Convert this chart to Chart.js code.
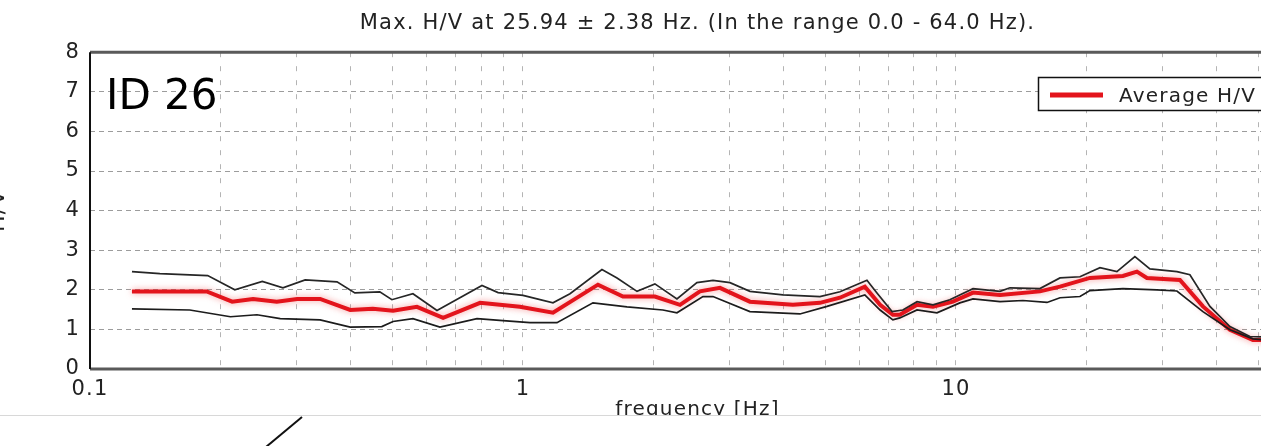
<!DOCTYPE html>
<html>
<head>
<meta charset="utf-8">
<title>H/V - ID 26</title>
<script src="https://cdn.jsdelivr.net/npm/chart.js@4.4.1/dist/chart.umd.min.js"></script>
<style>
    html, body { margin: 0; padding: 0; background: #fff; overflow: hidden; }
    #wrap { position: relative; width: 1261px; height: 446px; overflow: hidden; }
    #hv-chart { position: absolute; left: 0; top: 0; }
</style>
</head>
<body>
<div id="wrap"><canvas id="hv-chart" width="1388" height="446"></canvas></div>
<script>
// 曲線數據 (頻率 Hz / H/V 值)
const avgFreq = [0.125, 0.186, 0.213, 0.238, 0.270, 0.301, 0.340, 0.399, 0.450, 0.501,
    0.569, 0.654, 0.796, 0.984, 1.173, 1.490, 1.702, 2.017, 2.305, 2.563,
    2.851, 3.343, 4.203, 4.852, 5.396, 6.16, 6.68, 7.15, 7.42, 8.13,
    8.85, 9.84, 10.95, 12.64, 15.63, 17.39, 20.39, 24.30, 26.18, 27.61,
    32.91, 37.19, 42.93, 48.52, 50.63, 56, 64];
const avgHV = [1.96, 1.96, 1.70, 1.77, 1.70, 1.77, 1.77, 1.49, 1.52, 1.47,
    1.57, 1.29, 1.67, 1.57, 1.42, 2.13, 1.83, 1.83, 1.62, 1.96,
    2.05, 1.70, 1.62, 1.67, 1.80, 2.08, 1.62, 1.37, 1.37, 1.62,
    1.57, 1.70, 1.93, 1.87, 1.96, 2.08, 2.30, 2.35, 2.46, 2.30,
    2.25, 1.58, 0.99, 0.73, 0.73, 0.72, 0.74];

const upperFreq = [0.125, 0.145, 0.187, 0.216, 0.250, 0.279, 0.314, 0.372, 0.409, 0.467,
    0.498, 0.557, 0.633, 0.804, 0.876, 1.0, 1.173, 1.284, 1.522, 1.649,
    1.834, 2.017, 2.268, 2.522, 2.747, 3.007, 3.343, 3.985, 4.852, 5.396,
    6.23, 6.57, 7.12, 7.54, 8.13, 8.85, 9.68, 10.95, 12.64, 13.33,
    15.63, 17.39, 19.34, 21.51, 23.54, 25.90, 28.05, 32.39, 34.70, 38.60,
    42.93, 47.75, 50.63, 56, 64];
const upperHV = [2.46, 2.41, 2.36, 2.00, 2.21, 2.05, 2.25, 2.20, 1.92, 1.95,
    1.75, 1.90, 1.48, 2.11, 1.93, 1.86, 1.67, 1.90, 2.51, 2.30,
    1.96, 2.15, 1.77, 2.18, 2.24, 2.18, 1.96, 1.87, 1.83, 1.95,
    2.24, 1.92, 1.45, 1.49, 1.70, 1.62, 1.75, 2.03, 1.96, 2.05,
    2.03, 2.30, 2.33, 2.56, 2.46, 2.84, 2.53, 2.46, 2.38, 1.58,
    1.07, 0.82, 0.81, 0.80, 0.82];

const lowerFreq = [0.125, 0.170, 0.211, 0.243, 0.275, 0.340, 0.399, 0.472, 0.501, 0.557,
    0.643, 0.783, 0.899, 1.038, 1.198, 1.451, 1.739, 2.105, 2.268, 2.604,
    2.747, 3.343, 4.362, 5.037, 6.16, 6.68, 7.15, 7.42, 8.13, 9.04,
    10.21, 10.95, 12.64, 14.28, 16.23, 17.39, 19.34, 20.39, 24.30, 29.12,
    32.39, 37.19, 42.93, 48.52, 56, 64];
const lowerHV = [1.52, 1.49, 1.32, 1.37, 1.27, 1.24, 1.06, 1.07, 1.20, 1.27,
    1.06, 1.27, 1.22, 1.17, 1.17, 1.67, 1.57, 1.49, 1.42, 1.83,
    1.83, 1.45, 1.39, 1.58, 1.87, 1.49, 1.24, 1.29, 1.49, 1.42,
    1.67, 1.77, 1.70, 1.73, 1.68, 1.80, 1.83, 1.98, 2.03, 2.00,
    1.97, 1.45, 0.99, 0.76, 0.70, 0.72];

// 座標軸刻度
const xGridTicks = [0.1, 0.2, 0.3, 0.4, 0.5, 0.6, 0.7, 0.8, 0.9,
    1, 2, 3, 4, 5, 6, 7, 8, 9,
    10, 20, 30, 40, 50, 60];
const xTickLabels = [0.1, 1, 10];

const titleText = 'Max. H/V at 25.94 ± 2.38 Hz. (In the range 0.0 - 64.0 Hz).';
const stationLabel = 'ID 26';

const FONT = "'DejaVu Sans', 'Liberation Sans', sans-serif";
const INK = '#222';
const SPACING = '1.2px';   // 原圖字體較寬

function toPoints(freqs, values) {
    return freqs.map((f, i) => ({ x: f, y: values[i] }));
}

/**
 * 字距 (量測和繪製都要用到)
 */
const spacingPlugin = {
    id: 'spacing',
    beforeLayout(chart) {
        chart.ctx.letterSpacing = SPACING;
    },
    beforeDraw(chart) {
        chart.ctx.letterSpacing = SPACING;
    }
};

/**
 * 平均曲線加上淡紅色光暈
 */
const glowPlugin = {
    id: 'glow',
    beforeDatasetDraw(chart, args) {
        const ctx = chart.ctx;
        ctx.save();
        if (chart.data.datasets[args.index].glow) {
            ctx.shadowColor = 'rgba(240, 90, 90, 0.6)';
            ctx.shadowBlur = 6;
        }
    },
    afterDatasetDraw(chart) {
        chart.ctx.restore();
    }
};

/**
 * 外框、圖例、站號以及底部裁切
 */
const decorPlugin = {
    id: 'decor',
    afterDraw(chart) {
        const { ctx, chartArea: a } = chart;
        ctx.save();

        // 外框
        ctx.strokeStyle = '#5a5a5a';
        ctx.lineWidth = 3;
        ctx.beginPath();
        ctx.moveTo(a.left, a.top);
        ctx.lineTo(a.right, a.top);
        ctx.moveTo(a.left, a.bottom);
        ctx.lineTo(a.right, a.bottom);
        ctx.stroke();
        ctx.strokeStyle = '#111';
        ctx.lineWidth = 2;
        ctx.beginPath();
        ctx.moveTo(a.left, a.top);
        ctx.lineTo(a.left, a.bottom);
        ctx.stroke();

        // 站號
        ctx.letterSpacing = '0px';
        ctx.fillStyle = '#000';
        ctx.font = '42px ' + FONT;
        ctx.textBaseline = 'alphabetic';
        ctx.textAlign = 'left';
        ctx.fillText(stationLabel, 106, 109);

        // 圖例
        const ds = chart.data.datasets.find(d => d.glow);
        ctx.fillStyle = '#fff';
        ctx.fillRect(1038.5, 77.5, 250, 33);
        ctx.strokeStyle = '#111';
        ctx.lineWidth = 1.5;
        ctx.strokeRect(1038.5, 77.5, 250, 33);
        ctx.strokeStyle = ds.borderColor;
        ctx.lineWidth = 5;
        ctx.beginPath();
        ctx.moveTo(1050, 95);
        ctx.lineTo(1103, 95);
        ctx.stroke();
        ctx.letterSpacing = SPACING;
        ctx.fillStyle = INK;
        ctx.font = '20px ' + FONT;
        ctx.fillText(ds.label, 1119, 102);

        // 底部裁切區
        const w = chart.width;
        ctx.fillStyle = '#fff';
        ctx.fillRect(0, 415, w, chart.height - 415);
        ctx.strokeStyle = '#d8d8d8';
        ctx.lineWidth = 1;
        ctx.beginPath();
        ctx.moveTo(0, 415.5);
        ctx.lineTo(w, 415.5);
        ctx.stroke();
        ctx.strokeStyle = '#111';
        ctx.lineWidth = 2;
        ctx.beginPath();
        ctx.moveTo(266, 447);
        ctx.lineTo(302, 417);
        ctx.stroke();

        ctx.restore();
    }
};

Chart.defaults.font.family = FONT;
Chart.defaults.color = INK;

const ctx = document.getElementById('hv-chart');

new Chart(ctx, {
    type: 'line',
    data: {
        datasets: [
            {
                label: 'Upper',
                data: toPoints(upperFreq, upperHV),
                borderColor: '#262626',
                borderWidth: 1.7,
                pointRadius: 0,
                tension: 0
            },
            {
                label: 'Lower',
                data: toPoints(lowerFreq, lowerHV),
                borderColor: '#1c1c1c',
                borderWidth: 1.7,
                pointRadius: 0,
                tension: 0
            },
            {
                label: 'Average H/V',
                data: toPoints(avgFreq, avgHV),
                borderColor: '#e3141c',
                borderWidth: 4,
                pointRadius: 0,
                tension: 0,
                glow: true
            }
        ]
    },
    options: {
        responsive: false,
        animation: false,
        events: [],
        layout: {
            padding: { left: 0, right: 83, top: 0, bottom: 0 }
        },
        plugins: {
            legend: { display: false },
            tooltip: { enabled: false },
            title: {
                display: true,
                fullSize: false,   // 置中於繪圖區
                text: titleText,
                color: INK,
                font: { size: 21, weight: 'normal' },
                padding: { top: 11, bottom: 16 }
            }
        },
        scales: {
            x: {
                type: 'logarithmic',
                min: 0.1,
                max: 64,
                afterBuildTicks: (scale) => {
                    scale.ticks = xGridTicks.map(v => ({ value: v }));
                },
                afterFit: (scale) => {
                    scale.height = 77;
                },
                ticks: {
                    autoSkip: false,
                    maxRotation: 0,
                    padding: 8,
                    color: INK,
                    font: { size: 21 },
                    callback: (value) => xTickLabels.includes(value) ? String(value) : ''
                },
                grid: {
                    color: '#b4b4b4',
                    drawTicks: false
                },
                border: { display: false, dash: [5, 9] },
                title: {
                    display: true,
                    text: 'frequency [Hz]',
                    color: INK,
                    font: { size: 20 },
                    padding: { top: 0, bottom: 24 }
                }
            },
            y: {
                min: 0,
                max: 8,
                afterFit: (scale) => {
                    scale.width = 90;
                },
                ticks: {
                    stepSize: 1,
                    padding: 10,
                    color: INK,
                    font: { size: 21 }
                },
                grid: {
                    color: '#9c9c9c',
                    drawTicks: false
                },
                border: { display: false, dash: [5, 4] },
                title: {
                    display: true,
                    text: 'H/V',
                    color: INK,
                    font: { size: 22 },
                    padding: { top: -15, bottom: 0 }
                }
            }
        }
    },
    plugins: [spacingPlugin, glowPlugin, decorPlugin]
});
</script>
</body>
</html>
